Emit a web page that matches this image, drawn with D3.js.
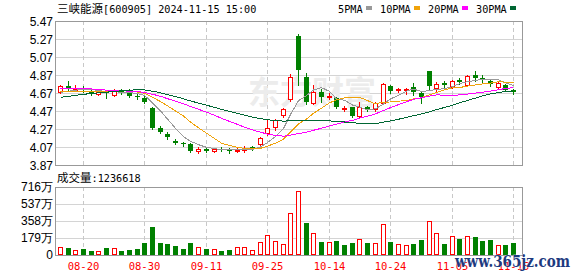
<!DOCTYPE html>
<html>
<head>
<meta charset="utf-8">
<style>
body { margin: 0; background: #fff; }
svg { display: block; }
.ylab { font: 12px "Liberation Sans", Arial, sans-serif; fill: #000; text-anchor: end; }
.xlab { font: 10.5px "DejaVu Sans Mono", monospace; fill: #ff0000; text-anchor: middle; }
.mono { font-family: "DejaVu Sans Mono", monospace; font-size: 10.2px; }
.cjk { font-family: "Noto Sans CJK SC", sans-serif; font-size: 11.5px; }
.grid { stroke: #d4d4d4; stroke-width: 1; shape-rendering: crispEdges; }
.vgrid { stroke: #c8c8c8; stroke-width: 1; stroke-dasharray: 4,3; shape-rendering: crispEdges; }
.frame { fill: none; stroke: #999; stroke-width: 1; shape-rendering: crispEdges; }
</style>
</head>
<body>
<svg width="578" height="276"></svg>
<script src="https://cdn.jsdelivr.net/npm/d3@7/dist/d3.min.js"></script>
<script>

// trading days shown (2024)
var dates = ["08-15","08-16","08-19","08-20","08-21","08-22","08-23","08-26","08-27","08-28",
  "08-29","08-30","09-02","09-03","09-04","09-05","09-06","09-09","09-10","09-11",
  "09-12","09-13","09-18","09-19","09-20","09-23","09-24","09-25","09-26","09-27",
  "09-30","10-08","10-09","10-10","10-11","10-14","10-15","10-16","10-17","10-18",
  "10-21","10-22","10-23","10-24","10-25","10-28","10-29","10-30","10-31","11-01",
  "11-04","11-05","11-06","11-07","11-08","11-11","11-12","11-13","11-14","11-15"];

var open = [4.68,4.75,4.70,4.73,4.69,4.66,4.68,4.65,4.69,4.70,
  4.64,4.61,4.50,4.28,4.22,4.14,4.12,4.10,4.03,4.05,
  4.03,4.05,4.05,4.03,4.04,4.07,4.10,4.23,4.29,4.43,
  4.60,5.30,4.85,4.56,4.68,4.62,4.61,4.49,4.51,4.41,
  4.51,4.49,4.56,4.75,4.70,4.70,4.74,4.67,4.91,4.73,
  4.78,4.74,4.81,4.76,4.87,4.84,4.80,4.74,4.76,4.70];
var high = [4.76,4.80,4.76,4.75,4.70,4.70,4.70,4.72,4.72,4.71,
  4.66,4.64,4.51,4.30,4.24,4.16,4.13,4.11,4.07,4.06,
  4.06,4.07,4.06,4.06,4.08,4.08,4.18,4.37,4.38,4.50,
  4.88,5.33,4.89,4.76,4.72,4.67,4.62,4.53,4.52,4.57,
  4.53,4.57,4.78,4.76,4.73,4.73,4.78,4.69,4.91,4.79,
  4.80,4.81,4.84,4.87,4.92,4.87,4.82,4.79,4.77,4.71];
var low = [4.67,4.70,4.69,4.68,4.65,4.65,4.61,4.64,4.66,4.63,
  4.60,4.56,4.27,4.23,4.16,4.10,4.08,4.01,4.00,4.02,
  4.02,4.03,4.00,4.01,4.02,4.04,4.09,4.20,4.26,4.40,
  4.58,4.76,4.55,4.55,4.57,4.60,4.50,4.47,4.40,4.40,
  4.47,4.47,4.55,4.67,4.68,4.66,4.65,4.56,4.70,4.68,
  4.72,4.73,4.77,4.75,4.80,4.79,4.75,4.73,4.69,4.66];
var close = [4.75,4.71,4.72,4.71,4.66,4.68,4.67,4.70,4.68,4.64,
  4.63,4.57,4.28,4.24,4.18,4.12,4.10,4.03,4.05,4.03,
  4.05,4.04,4.03,4.04,4.05,4.06,4.17,4.28,4.37,4.49,
  4.85,4.93,4.57,4.68,4.62,4.64,4.51,4.50,4.41,4.51,
  4.49,4.56,4.77,4.69,4.71,4.72,4.68,4.63,4.75,4.77,
  4.76,4.80,4.79,4.86,4.84,4.83,4.77,4.78,4.70,4.68];

// closes of the 29 sessions before 08-15, estimated from where the MA lines start
var priorClose = [4.38,4.40,4.36,4.41,4.45,4.43,4.47,4.44,4.46,4.50,
  4.62,4.70,4.76,4.80,4.78,4.82,4.77,4.74,4.76,4.73,
  4.72,4.70,4.69,4.71,4.68,4.66,4.65,4.67,4.66];

var volume = [800000,730000,520000,630000,450000,420000,730000,700000,450000,520000,
  630000,1260000,2930000,1260000,1150000,940000,630000,1280000,810000,630000,
  600000,420000,530000,810000,810000,530000,1370000,2110000,1470000,1160000,
  4390000,6700000,3400000,2350000,1400000,1400000,1470000,1050000,1300000,1650000,
  1300000,1300000,3240000,1400000,1120000,1050000,1160000,1580000,3580000,2350000,
  1160000,2000000,1680000,2000000,1900000,1470000,1580000,1050000,1050000,1236618];

var priceTicks = [3.87,4.07,4.27,4.47,4.67,4.87,5.07,5.27,5.47];
var volTicks = [0,1790000,3580000,5370000,7160000];
var dateTicks = ["08-20","08-30","09-11","09-25","10-14","10-24","11-05","11-15"];
var maPeriods = [5,10,20,30];
var maNames = ["5PMA","10PMA","20PMA","30PMA"];

var titleName = "三峡能源", titleRest = "[600905] 2024-11-15 15:00";

// ---------------------------------------------------------------
var maColors = ["#999999","#f0a30a","#ff00ff","#006633"];
var up = "#ff0000", down = "#008000";

var svg = d3.select("svg");
var L = 55, R = 522, pTop = 21, pBot = 165, vTop = 187, vBot = 255;

var x = d3.scaleBand().domain(dates).range([56, 517]);
var y = d3.scaleLinear().domain([3.87, 5.47]).range([pBot, pTop]);
var yv = d3.scaleLinear().domain([0, 7160000]).range([vBot, vTop]);

function cx(d) { return Math.round(x(d) + x.bandwidth() / 2); }

// grid
var g = svg.append("g");
g.selectAll(".pg").data(priceTicks).enter().append("line")
  .attr("class", "grid")
  .attr("x1", L).attr("x2", R)
  .attr("y1", function(d) { return Math.round(y(d)) + 0.5; })
  .attr("y2", function(d) { return Math.round(y(d)) + 0.5; });
g.selectAll(".vg").data(volTicks).enter().append("line")
  .attr("class", "grid")
  .attr("x1", L).attr("x2", R)
  .attr("y1", function(d) { return Math.round(yv(d)) + 0.5; })
  .attr("y2", function(d) { return Math.round(yv(d)) + 0.5; });
[[pTop, pBot], [vTop, vBot]].forEach(function(r) {
  g.selectAll(null).data(dateTicks).enter().append("line")
    .attr("class", "vgrid")
    .attr("x1", function(d) { return cx(d) + 0.5; })
    .attr("x2", function(d) { return cx(d) + 0.5; })
    .attr("y1", r[0]).attr("y2", r[1]);
});

// faint watermark
svg.append("text")
  .attr("x", 248).attr("y", 104)
  .style("font", "bold 32px 'Noto Sans CJK SC', sans-serif")
  .style("fill", "#ececec")
  .text("东方财富");

// frames
svg.append("rect").attr("class", "frame")
  .attr("x", L + 0.5).attr("y", pTop + 0.5).attr("width", R - L).attr("height", pBot - pTop);
svg.append("rect").attr("class", "frame")
  .attr("x", L + 0.5).attr("y", vTop + 0.5).attr("width", R - L).attr("height", vBot - vTop);

// candles
var k = svg.append("g").attr("shape-rendering", "crispEdges");
dates.forEach(function(d, i) {
  var c = cx(d), left = c - 2;
  var isUp = close[i] >= open[i];
  var col = isUp ? up : down;
  k.append("line")
    .attr("x1", c + 0.5).attr("x2", c + 0.5)
    .attr("y1", Math.round(y(high[i]))).attr("y2", Math.round(y(low[i])) + 1)
    .attr("stroke", col);
  var yo = Math.round(y(open[i])), yc = Math.round(y(close[i]));
  if (isUp) {
    var h = yo - yc;
    if (h < 1) {
      k.append("line").attr("x1", left).attr("x2", left + 5)
        .attr("y1", yc + 0.5).attr("y2", yc + 0.5).attr("stroke", col);
    } else {
      k.append("rect").attr("x", left + 0.5).attr("y", yc + 0.5)
        .attr("width", 4).attr("height", h)
        .attr("fill", "#fff").attr("stroke", col);
    }
  } else {
    k.append("rect").attr("x", left).attr("y", yo)
      .attr("width", 5).attr("height", Math.max(1, yc - yo))
      .attr("fill", col);
  }
});

// moving averages
var allClose = priorClose.concat(close);
var off = priorClose.length;
maPeriods.forEach(function(p, j) {
  var ma = close.map(function(c, i) {
    return d3.mean(allClose.slice(i + off - p + 1, i + off + 1));
  });
  var line = d3.line()
    .x(function(v, i) { return cx(dates[i]) + 0.5; })
    .y(function(v) { return y(v); });
  svg.append("path")
    .datum(ma)
    .attr("d", line)
    .attr("fill", "none")
    .attr("stroke", maColors[j])
    .attr("stroke-width", 1)
    .attr("shape-rendering", "crispEdges");
});

// volume bars, coloured by change from previous close
var vb = svg.append("g").attr("shape-rendering", "crispEdges");
dates.forEach(function(d, i) {
  var left = cx(d) - 2;
  var prev = i ? close[i - 1] : priorClose[priorClose.length - 1];
  var top = Math.round(yv(volume[i]));
  if (close[i] >= prev) {
    vb.append("rect").attr("x", left + 0.5).attr("y", top + 0.5)
      .attr("width", 4).attr("height", vBot - top - 1)
      .attr("fill", "#fff").attr("stroke", up);
  } else {
    vb.append("rect").attr("x", left).attr("y", top)
      .attr("width", 5).attr("height", vBot - top)
      .attr("fill", down);
  }
});

// axis labels
svg.append("g").selectAll("text").data(priceTicks).enter().append("text")
  .attr("class", "ylab")
  .attr("x", 53).attr("y", function(d) { return y(d) + 0.5; })
  .attr("dy", "0.36em")
  .text(function(d) { return d.toFixed(2); });
svg.append("g").selectAll("text").data(volTicks).enter().append("text")
  .attr("class", "ylab")
  .attr("x", 53).attr("y", function(d) { return yv(d) - 0.5; })
  .attr("dy", "0.36em")
  .text(function(d) { return d === 0 ? "0" : (d / 10000) + "万"; });
svg.append("g").selectAll("text").data(dateTicks).enter().append("text")
  .attr("class", "xlab")
  .attr("x", function(d) { return cx(d) + 0.5; })
  .attr("y", 269.5)
  .text(function(d) { return d; });

// title
var t = svg.append("text").attr("x", 57).attr("y", 13);
t.append("tspan").attr("class", "cjk").text(titleName);
t.append("tspan").attr("class", "mono").text(titleRest);

var vt = svg.append("text").attr("x", 57).attr("y", 181.5);
vt.append("tspan").attr("class", "cjk").text("成交量");
vt.append("tspan").attr("class", "mono").text(":" + volume[volume.length - 1]);

// legend
var lx = 338;
maNames.forEach(function(n, j) {
  var tx = svg.append("text").attr("class", "mono")
    .attr("x", lx).attr("y", 12.5).style("font-size", "10.2px").text(n);
  var w = tx.node().getComputedTextLength();
  svg.append("rect")
    .attr("x", Math.round(lx + w + 3)).attr("y", 6)
    .attr("width", 6).attr("height", 4)
    .attr("fill", maColors[j]);
  lx = Math.round(lx + w + 3) + 6 + 8;
});

// site watermark
svg.append("text")
  .attr("x", 455).attr("y", 266.5)
  .attr("textLength", 115).attr("lengthAdjust", "spacingAndGlyphs")
  .style("font", "bold 16px 'DejaVu Serif', serif")
  .style("fill", "#1d3a80")
  .style("stroke", "#fff").style("stroke-width", 0.6).style("paint-order", "stroke")
  .text("www.365jz.com");

</script>
</body>
</html>
